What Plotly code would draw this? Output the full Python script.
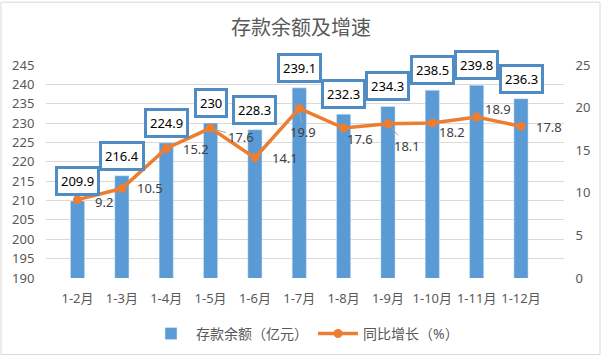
import plotly.graph_objects as go

months = ["1-2月", "1-3月", "1-4月", "1-5月", "1-6月", "1-7月", "1-8月", "1-9月", "1-10月", "1-11月", "1-12月"]
deposits = [209.9, 216.4, 224.9, 230, 228.3, 239.1, 232.3, 234.3, 238.5, 239.8, 236.3]
growth = [9.2, 10.5, 15.2, 17.6, 14.1, 19.9, 17.6, 18.1, 18.2, 18.9, 17.8]
left_ticks = [190, 195, 200, 205, 210, 215, 220, 225, 230, 235, 240, 245]
right_ticks = [0, 5, 10, 15, 20, 25]

# label offsets (px) for growth labels, and whether a leader line is drawn
g_dx = [26, 28, 30, 30, 30, 4, 16, 19, 20, 21, 28]
g_dy = [2, -1, 0, 9, 0, 24, 11, 22, 9, -8, 1]
g_leader = [False, False, False, True, False, True, False, True, False, False, False]

FONT = "Noto Sans, Noto Sans CJK SC, sans-serif"
GRAY = "#595959"

fig = go.Figure()
fig.add_trace(go.Bar(
    x=months, y=deposits, name="存款余额（亿元）",
    marker=dict(color="#5B9BD5"), width=0.32, yaxis="y",
))
fig.add_trace(go.Scatter(
    x=months, y=growth, name="同比增长（%）", yaxis="y2",
    mode="lines+markers",
    line=dict(color="#ED7D31", width=3.5),
    marker=dict(color="#ED7D31", size=9),
))

annotations = []
for m, v in zip(months, deposits):
    annotations.append(dict(
        x=m, y=v, xref="x", yref="y", text=str(v), showarrow=False,
        yanchor="bottom", yshift=5,
        font=dict(family=FONT, size=13, color="#000000"),
        bgcolor="white", bordercolor="#4F8CC4", borderwidth=3, borderpad=3,
    ))
for m, v, dx, dy, ld in zip(months, growth, g_dx, g_dy, g_leader):
    annotations.append(dict(
        x=m, y=v, xref="x", yref="y2", text=str(v), showarrow=True,
        ax=dx, ay=dy, arrowhead=0, arrowwidth=1, standoff=4,
        arrowcolor="#A6A6A6" if ld else "rgba(0,0,0,0)",
        font=dict(family=FONT, size=13, color="#404040"),
    ))

pw, ph = 518, 217
ml, mt = 46, 65
fig.update_layout(
    width=602, height=362,
    margin=dict(l=ml, r=602 - ml - pw, t=mt, b=362 - mt - ph),
    paper_bgcolor="white", plot_bgcolor="white",
    title=dict(text="存款余额及增速", x=0.5, xanchor="center", y=1 - 28 / 362, yanchor="middle",
               font=dict(family=FONT, size=20, color=GRAY)),
    font=dict(family=FONT, size=12, color=GRAY),
    showlegend=True,
    legend=dict(orientation="h", x=0.5, xanchor="center", y=-57 / ph, yanchor="middle",
                font=dict(family=FONT, size=14, color=GRAY), itemwidth=40),
    xaxis=dict(showgrid=False, ticks="outside", ticklen=8, tickcolor="rgba(0,0,0,0)",
               tickfont=dict(size=13, color=GRAY), showline=False),
    yaxis=dict(range=[190, 245], tickvals=left_ticks, showgrid=True, gridcolor="#D9D9D9",
               gridwidth=1, zeroline=False, ticks="outside", ticklen=8,
               tickcolor="rgba(0,0,0,0)", tickfont=dict(size=13, color=GRAY)),
    yaxis2=dict(range=[0, 25], tickvals=right_ticks, overlaying="y", side="right",
                showgrid=False, zeroline=False, ticks="outside", ticklen=8,
                tickcolor="rgba(0,0,0,0)", tickfont=dict(size=13, color=GRAY)),
    annotations=annotations,
    shapes=[dict(type="rect", xref="paper", yref="paper",
                 x0=(1 - ml) / pw, x1=(600 - ml) / pw,
                 y0=(mt + ph - 360) / ph, y1=(mt + ph - 1) / ph,
                 line=dict(color="#D9D9D9", width=1), fillcolor="rgba(0,0,0,0)", layer="below")],
)
fig.write_html("out.html", config={"displayModeBar": False},
               post_script="document.body.style.margin='0';document.body.style.overflow='hidden';")
